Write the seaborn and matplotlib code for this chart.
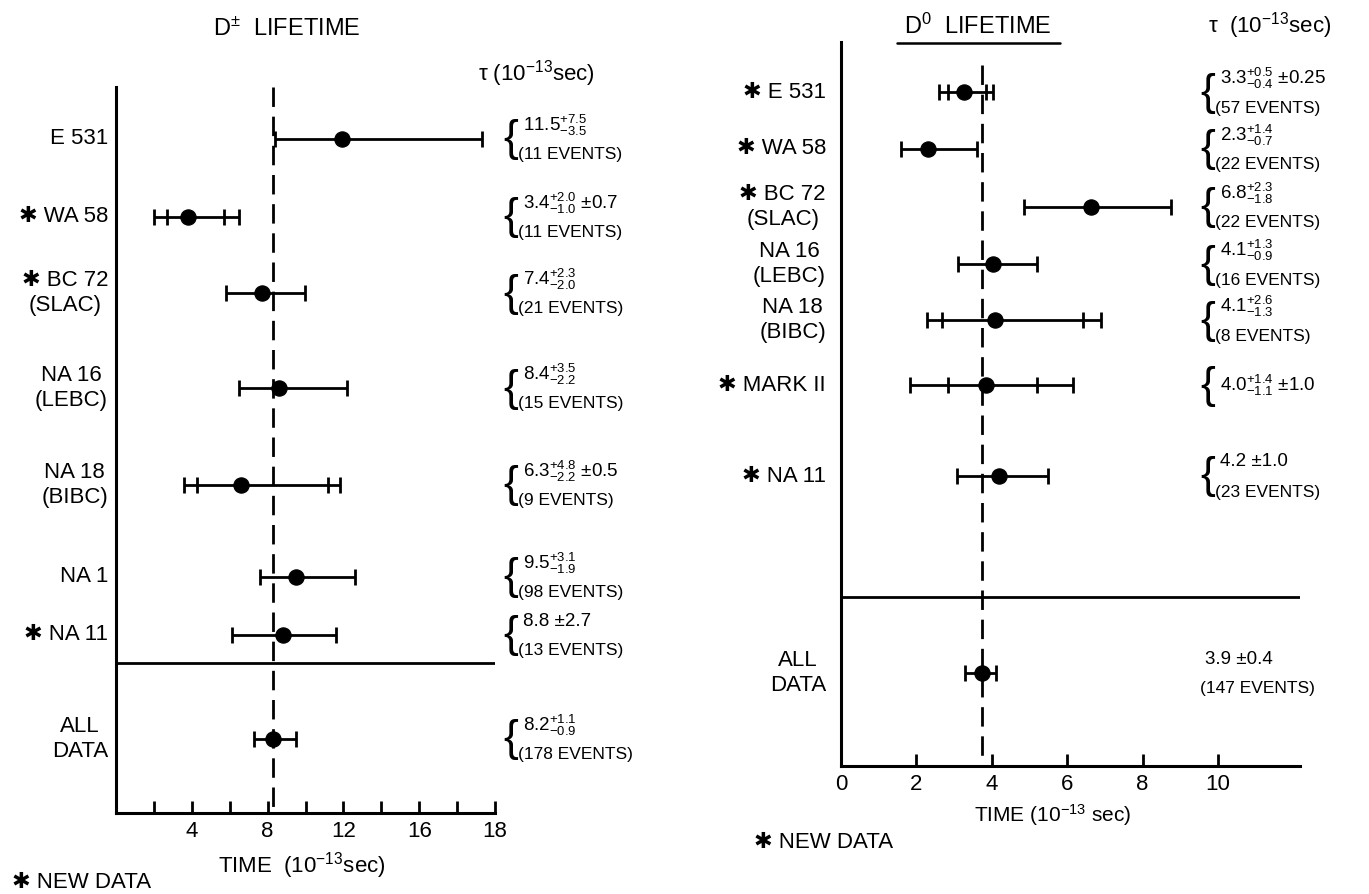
"""
D meson lifetime compilation - two panel error bar chart
"""
import numpy as np
import matplotlib
matplotlib.use("Agg")
import matplotlib.pyplot as plt
import seaborn as sns

# %%
# Data: D+- lifetimes (10^-13 sec)
DPM_EXPTS = ["E 531", "✱ WA 58", "✱ BC 72\n(SLAC)", "NA 16\n(LEBC)",
             "NA 18\n(BIBC)", "NA 1", "✱ NA 11", "ALL\nDATA"]
DPM_TAU = [11.9, 3.8, 7.7, 8.6, 6.6, 9.5, 8.8, 8.3]
DPM_LO = [8.4, 2.0, 5.8, 6.5, 3.6, 7.6, 6.1, 7.3]
DPM_HI = [19.3, 6.5, 9.95, 12.2, 11.8, 12.6, 11.6, 9.5]
DPM_STAT_LO = [np.nan, 2.7, np.nan, np.nan, 4.3, np.nan, np.nan, np.nan]
DPM_STAT_HI = [np.nan, 5.7, np.nan, np.nan, 11.2, np.nan, np.nan, np.nan]
DPM_VALUE = [r"$11.5^{+7.5}_{-3.5}$", r"$3.4^{+2.0}_{-1.0}$ ±0.7", r"$7.4^{+2.3}_{-2.0}$",
             r"$8.4^{+3.5}_{-2.2}$", r"$6.3^{+4.8}_{-2.2}$ ±0.5", r"$9.5^{+3.1}_{-1.9}$",
             "8.8 ±2.7", r"$8.2^{+1.1}_{-0.9}$"]
DPM_EVENTS = ["(11 EVENTS)", "(11 EVENTS)", "(21 EVENTS)", "(15 EVENTS)",
              "(9 EVENTS)", "(98 EVENTS)", "(13 EVENTS)", "(178 EVENTS)"]
DPM_MEAN = 8.3

# Data: D0 lifetimes (10^-13 sec)
D0_EXPTS = ["✱ E 531", "✱ WA 58", "✱ BC 72\n(SLAC)", "NA 16\n(LEBC)",
            "NA 18\n(BIBC)", "✱ MARK II", "✱ NA 11", "ALL\nDATA"]
D0_TAU = [3.26, 2.31, 6.63, 4.03, 4.08, 3.85, 4.19, 3.75]
D0_LO = [2.6, 1.59, 4.85, 3.1, 2.28, 1.83, 3.08, 3.3]
D0_HI = [4.03, 3.61, 8.75, 5.2, 6.9, 6.15, 5.49, 4.1]
D0_STAT_LO = [2.84, np.nan, np.nan, np.nan, 2.68, 2.84, np.nan, np.nan]
D0_STAT_HI = [3.85, np.nan, np.nan, np.nan, 6.42, 5.2, np.nan, np.nan]
D0_VALUE = [r"$3.3^{+0.5}_{-0.4}$ ±0.25", r"$2.3^{+1.4}_{-0.7}$", r"$6.8^{+2.3}_{-1.8}$",
            r"$4.1^{+1.3}_{-0.9}$", r"$4.1^{+2.6}_{-1.3}$", r"$4.0^{+1.4}_{-1.1}$ ±1.0",
            "4.2 ±1.0", "3.9 ±0.4"]
D0_EVENTS = ["(57 EVENTS)", "(22 EVENTS)", "(22 EVENTS)", "(16 EVENTS)",
             "(8 EVENTS)", "", "(23 EVENTS)", "(147 EVENTS)"]
D0_MEAN = 3.75

# %%
# Layout (pixel rows of each experiment in the 1369x894 canvas)
W, H = 1369, 894
DPM_ROWS = [139, 217, 293, 388, 485, 577, 635, 739]
D0_ROWS = [92, 149, 207, 264, 320, 385, 476, 673]

sns.set_style("ticks")
plt.rcParams["font.family"] = ["Liberation Sans", "DejaVu Sans"]
plt.rcParams["mathtext.fontset"] = "custom"
plt.rcParams["mathtext.rm"] = "Liberation Sans"
plt.rcParams["mathtext.default"] = "regular"
for key in ["text.color", "axes.labelcolor", "xtick.color", "ytick.color", "axes.edgecolor"]:
    plt.rcParams[key] = "black"

fig = plt.figure(figsize=(W / 100, H / 100), dpi=100)


def px_axes(x0, y0, x1, y1):
    return fig.add_axes([x0 / W, 1 - y1 / H, (x1 - x0) / W, (y1 - y0) / H])


def ftext(x, y, s, **kw):
    return fig.text(x / W, 1 - y / H, s, **kw)


def draw_panel(ax, rows, tau, lo, hi, slo, shi, mean, mean_top, sep_y):
    tau = np.array(tau)
    lo, hi = np.array(lo), np.array(hi)
    slo, shi = np.array(slo), np.array(shi)
    rows = np.array(rows)
    ax.errorbar(tau, rows, xerr=[tau - lo, hi - tau], fmt="none", ecolor="black",
                elinewidth=2, capsize=5.5, capthick=2, zorder=3)
    ok = ~np.isnan(slo)
    ax.errorbar(tau[ok], rows[ok], xerr=[tau[ok] - slo[ok], shi[ok] - tau[ok]], fmt="none",
                ecolor="black", elinewidth=0, capsize=5.5, capthick=2, zorder=3)
    sns.scatterplot(x=tau, y=rows, ax=ax, color="black", s=120, edgecolor="black",
                    legend=False, zorder=5)
    ax.plot([mean, mean], [mean_top, ax.get_ylim()[0]], color="black", lw=2,
            dashes=(7, 3.5), clip_on=False, zorder=2)
    ax.axhline(sep_y, color="black", lw=2)
    sns.despine(ax=ax)
    for side in ["left", "bottom"]:
        ax.spines[side].set_linewidth(2.2)
    ax.set_yticks([])
    ax.set_xlabel("")
    ax.set_ylabel("")
    ax.tick_params(axis="x", direction="in", length=9, width=2, labelsize=16, pad=6)


def annotate(x_brace, rows, values, events, brace=True):
    for y, val, ev in zip(rows, values, events):
        if ev:
            ftext(x_brace + 20, y - 14, val, fontsize=13.5, va="center", ha="left")
            ftext(x_brace + 15, y + 16, ev, fontsize=12.5, va="center", ha="left")
        else:
            ftext(x_brace + 20, y, val, fontsize=13.5, va="center", ha="left")
        if brace:
            ftext(x_brace, y + 1, "{", fontsize=32, va="center", ha="left",
                  family="Liberation Sans")


# %%
# Left panel: D+- lifetime
ax1 = px_axes(116, 87, 495, 813)
ax1.set_xlim(0, 20)
ax1.set_ylim(813, 87)
draw_panel(ax1, DPM_ROWS, DPM_TAU, DPM_LO, DPM_HI, DPM_STAT_LO, DPM_STAT_HI,
           DPM_MEAN, 87, 663)
ax1.set_xticks(range(2, 21, 2))
ax1.set_xticklabels(["", "4", "", "8", "", "12", "", "16", "", "18"])
for y, name in zip(DPM_ROWS, DPM_EXPTS):
    ftext(108, y, name, fontsize=16, ha="right", va="center", multialignment="center",
          family=["Liberation Sans", "DejaVu Sans"])
annotate(503, DPM_ROWS, DPM_VALUE, DPM_EVENTS)

ftext(287, 29, r"D$^{\pm}$  LIFETIME", fontsize=17, ha="center", va="center")
ftext(478, 74, r"$\tau$ (10$^{-13}$sec)", fontsize=16, ha="left", va="center")
ftext(302, 866, r"TIME  (10$^{-13}$sec)", fontsize=16, ha="center", va="center")
ftext(12, 882, "✱ NEW DATA", fontsize=16, ha="left", va="center",
      family=["Liberation Sans", "DejaVu Sans"])

# %%
# Right panel: D0 lifetime
ax2 = px_axes(841, 42, 1300, 766)
ax2.set_xlim(0, (1300 - 841) / 37.7)
ax2.set_ylim(766, 42)
draw_panel(ax2, D0_ROWS, D0_TAU, D0_LO, D0_HI, D0_STAT_LO, D0_STAT_HI,
           D0_MEAN, 65, 597)
ax2.set_xticks([0, 2, 4, 6, 8, 10])
ax2.set_xticklabels(["0", "2", "4", "6", "8", "10"])
for y, name in zip(D0_ROWS, D0_EXPTS):
    ftext(826, y, name, fontsize=16, ha="right", va="center", multialignment="center",
          family=["Liberation Sans", "DejaVu Sans"])
annotate(1200, D0_ROWS[:-1], D0_VALUE[:-1], D0_EVENTS[:-1])
annotate(1185, D0_ROWS[-1:], D0_VALUE[-1:], D0_EVENTS[-1:], brace=False)

ftext(978, 26, r"D$^{0}$  LIFETIME", fontsize=17, ha="center", va="center")
fig.add_artist(plt.Line2D([897 / W, 1060 / W], [1 - 43 / H, 1 - 43 / H],
                          color="black", lw=1.8))
ftext(1208, 26, r"$\tau$  (10$^{-13}$sec)", fontsize=16, ha="left", va="center")
ftext(1053, 815, r"TIME (10$^{-13}$ sec)", fontsize=15, ha="center", va="center")
ftext(893, 842, "✱ NEW DATA", fontsize=16, ha="right", va="center",
      family=["Liberation Sans", "DejaVu Sans"])

fig.savefig("out.png", dpi=100, facecolor="white")
print("saved out.png")
